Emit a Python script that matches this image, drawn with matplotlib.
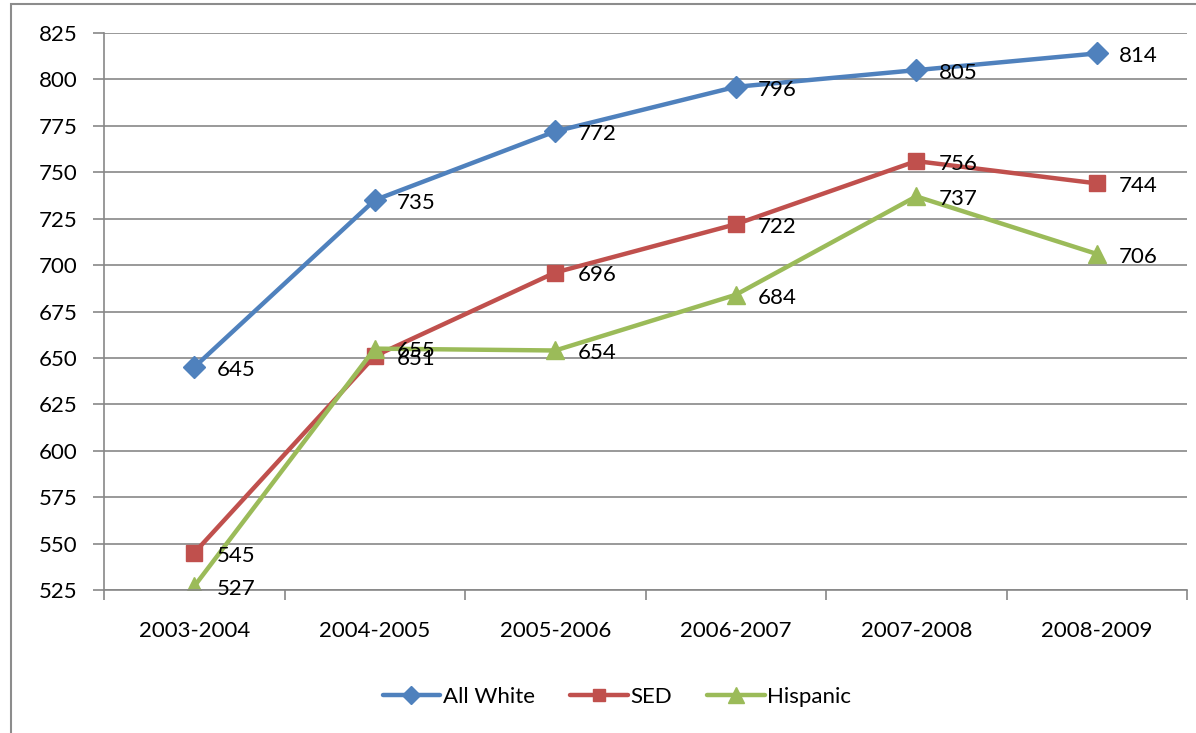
import matplotlib
matplotlib.use("Agg")
import matplotlib.pyplot as plt
from matplotlib.patches import Rectangle

categories = ["2003-2004", "2004-2005", "2005-2006", "2006-2007", "2007-2008", "2008-2009"]
all_white = [645, 735, 772, 796, 805, 814]
sed = [545, 651, 696, 722, 756, 744]
hispanic = [527, 655, 654, 684, 737, 706]
yticks = list(range(525, 826, 25))

plt.rcParams['font.family'] = ['Lato', 'DejaVu Sans']
W, H = 1196, 733
fig = plt.figure(figsize=(W/100, H/100), dpi=100)
ax = fig.add_axes([104/W, 1-590/H, (1187-104)/W, (590-33)/H])

fig.patches.append(Rectangle((11/W, -0.1), 1.2, 1-4/H+0.1, transform=fig.transFigure,
                             fill=False, edgecolor='#8c8c8c', linewidth=1.5))

x = list(range(len(categories)))
series = [("All White", all_white, '#4F81BD', 'D', 11),
          ("SED", sed, '#C0504D', 's', 11),
          ("Hispanic", hispanic, '#9BBB59', '^', 13)]
for name, vals, col, mk, ms in series:
    ax.plot(x, vals, color=col, lw=3.2, marker=mk, markersize=ms, label=name,
            markeredgecolor=col, solid_capstyle='round')
for name, vals, col, mk, ms in series:
    for xi, v in zip(x, vals):
        ax.annotate(str(v), (xi, v), xytext=(16, -2), textcoords='offset points',
                    ha='left', va='center', fontsize=16, color='black')

ax.set_xlim(-0.5, 5.5)
ax.set_ylim(525, 825)
ax.set_yticks(yticks)
ax.set_yticklabels([str(t) for t in yticks], fontsize=16)
ax.set_xticks(x)
ax.set_xticklabels(categories, fontsize=16)
ax.set_xticks([i - 0.5 for i in range(7)], minor=True)
ax.tick_params(axis='x', which='major', length=0, pad=22)
ax.tick_params(axis='x', which='minor', length=7, color='#878787', width=1.2)
ax.tick_params(axis='y', length=8, color='#878787', width=1.2, pad=11)
ax.grid(axis='y', color='#878787', lw=1.2)
ax.set_axisbelow(True)
for s in ['top', 'right']:
    ax.spines[s].set_visible(False)
for s in ['left', 'bottom']:
    ax.spines[s].set_color('#878787')
    ax.spines[s].set_linewidth(1.2)

leg = fig.legend(loc='center', bbox_to_anchor=(617/W, 1-697/H), ncol=3, frameon=False,
                 fontsize=16, handlelength=2.6, handletextpad=0.1, columnspacing=1.6,
                 markerscale=0.85)

fig.savefig("out.png", dpi=100)
